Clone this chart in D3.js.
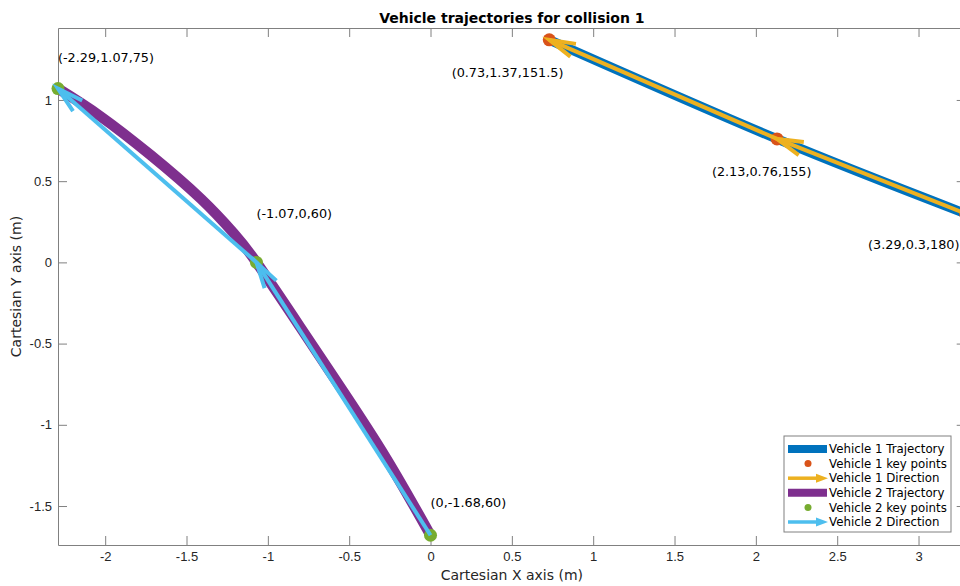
<!DOCTYPE html>
<html>
<head>
<meta charset="utf-8">
<script src="https://cdn.jsdelivr.net/npm/d3@7"></script>
<style>
  body { margin: 0; background: #fff; }
  svg { display: block; font-family: "DejaVu Sans", sans-serif; }
  .tick text { fill: #262626; font-size: 13px; }
</style>
</head>
<body>
<div id="chart"></div>
<script>
// key points of vehicle 1: x, y and heading shown in the label
var v1X = [0.73, 2.13, 3.29];
var v1Y = [1.37, 0.76, 0.3];
var v1Deg = [151.5, 155, 180];

// key points of vehicle 2
var v2X = [-2.29, -1.07, 0];
var v2Y = [1.07, 0, -1.68];
var v2Deg = [75, 60, 60];

// vehicle 2 trajectory
var v2TrajX = [-2.29, -2.03, -1.72, -1.41, -1.21, -1.07, -0.80, -0.54, -0.27, 0];
var v2TrajY = [1.07, 0.90, 0.66, 0.39, 0.18, 0, -0.40, -0.79, -1.21, -1.68];

// label offsets (data units) used for the text() calls
var v1LabelDx = [-0.6, -0.4, -0.6];
var v1LabelDy = [-0.2, -0.2, -0.19];
var v2LabelDx = [0, 0, 0];
var v2LabelDy = [0.19, 0.3, 0.2];

var xTicks = [-2, -1.5, -1, -0.5, 0, 0.5, 1, 1.5, 2, 2.5, 3];
var yTicks = [-1.5, -1, -0.5, 0, 0.5, 1];

var legendLabels = ["Vehicle 1 Trajectory", "Vehicle 1 key points", "Vehicle 1 Direction",
                    "Vehicle 2 Trajectory", "Vehicle 2 key points", "Vehicle 2 Direction"];

var width = 960, height = 586;
var plotL = 58, plotR = 965.7, plotT = 28, plotB = 545;

var col = {
  blue: "#0072BD", red: "#D95319", yellow: "#EDB120",
  purple: "#7E2F8E", green: "#77AC30", cyan: "#4DBEEE"
};

var svg = d3.select("#chart").append("svg")
  .attr("width", width).attr("height", height);

var x = d3.scaleLinear().domain([-2.29, 3.29]).range([plotL, plotR]);
var y = d3.scaleLinear().domain([-1.74, 1.443]).range([plotB, plotT]);

// axes, MATLAB style: box on, ticks pointing in
var fmt = function (d) { return String(d); };
svg.append("g").attr("transform", "translate(0," + plotB + ")")
  .call(d3.axisBottom(x).tickValues(xTicks).tickFormat(fmt).tickSizeInner(-9).tickSizeOuter(0).tickPadding(7));
svg.append("g").attr("transform", "translate(0," + plotT + ")")
  .call(d3.axisTop(x).tickValues(xTicks).tickFormat("").tickSizeInner(-9).tickSizeOuter(0));
svg.append("g").attr("transform", "translate(" + plotL + ",0)")
  .call(d3.axisLeft(y).tickValues(yTicks).tickFormat(fmt).tickSizeInner(-9).tickSizeOuter(0).tickPadding(6));
svg.append("g").attr("transform", "translate(" + plotR + ",0)")
  .call(d3.axisRight(y).tickValues(yTicks).tickFormat("").tickSizeInner(-9).tickSizeOuter(0));
svg.selectAll(".domain, .tick line").attr("stroke", "#808080");

// titles
svg.append("text").attr("x", (plotL + plotR) / 2).attr("y", 23)
  .attr("text-anchor", "middle").style("font-weight", "bold").style("font-size", "14px")
  .attr("fill", "#000").text("Vehicle trajectories for collision 1");
svg.append("text").attr("x", (plotL + plotR) / 2).attr("y", 580)
  .attr("text-anchor", "middle").style("font-size", "14px").attr("fill", "#262626")
  .text("Cartesian X axis (m)");
svg.append("text").attr("transform", "translate(21," + (plotT + plotB) / 2 + ") rotate(-90)")
  .attr("text-anchor", "middle").style("font-size", "14px").attr("fill", "#262626")
  .text("Cartesian Y axis (m)");

var line = d3.line().x(function (d) { return x(d[0]); }).y(function (d) { return y(d[1]); })
  .curve(d3.curveNatural);

function zipXY(xs, ys) { return xs.map(function (v, i) { return [v, ys[i]]; }); }

// quiver: arrow from each key point to the previous one
function drawArrows(xs, ys, color) {
  var head = 27, ang = 15 * Math.PI / 180;
  for (var i = xs.length - 1; i > 0; i--) {
    var x0 = x(xs[i]), y0 = y(ys[i]), x1 = x(xs[i - 1]), y1 = y(ys[i - 1]);
    var a = Math.atan2(y0 - y1, x0 - x1);
    var b1 = [x1 + head * Math.cos(a + ang), y1 + head * Math.sin(a + ang)];
    var b2 = [x1 + head * Math.cos(a - ang), y1 + head * Math.sin(a - ang)];
    svg.append("line").attr("x1", x0).attr("y1", y0).attr("x2", x1).attr("y2", y1)
      .attr("stroke", color).attr("stroke-width", 4);
    svg.append("path").attr("d", "M" + b1 + "L" + x1 + "," + y1 + "L" + b2)
      .attr("fill", "none").attr("stroke", color).attr("stroke-width", 4);
  }
}

function drawPoints(xs, ys, color) {
  svg.append("g").selectAll("circle").data(zipXY(xs, ys)).enter().append("circle")
    .attr("cx", function (d) { return x(d[0]); }).attr("cy", function (d) { return y(d[1]); })
    .attr("r", 6.5).attr("fill", color);
}

function drawLabels(xs, ys, deg, dx, dy) {
  svg.append("g").selectAll("text").data(xs).enter().append("text")
    .attr("x", function (d, i) { return x(d + dx[i]); })
    .attr("y", function (d, i) { return y(ys[i] + dy[i]); })
    .attr("dy", "0.35em").style("font-size", "12.8px").attr("fill", "#000")
    .text(function (d, i) { return "(" + d + "," + ys[i] + "," + deg[i] + ")"; });
}

// vehicle 1
svg.append("path").attr("d", line(zipXY(v1X, v1Y)))
  .attr("fill", "none").attr("stroke", col.blue).attr("stroke-width", 9.5);
drawPoints(v1X, v1Y, col.red);
drawArrows(v1X, v1Y, col.yellow);

// vehicle 2
svg.append("path").attr("d", line(zipXY(v2TrajX, v2TrajY)))
  .attr("fill", "none").attr("stroke", col.purple).attr("stroke-width", 10.5);
drawPoints(v2X, v2Y, col.green);
drawArrows(v2X, v2Y, col.cyan);

drawLabels(v1X, v1Y, v1Deg, v1LabelDx, v1LabelDy);
drawLabels(v2X, v2Y, v2Deg, v2LabelDx, v2LabelDy);

// legend
var lg = svg.append("g").attr("transform", "translate(784,436)");
lg.append("rect").attr("width", 167).attr("height", 96)
  .attr("fill", "#fff").attr("stroke", "#808080").attr("stroke-width", 1);
var kinds = ["line", "dot", "arrow", "line", "dot", "arrow"];
var kcol = [col.blue, col.red, col.yellow, col.purple, col.green, col.cyan];
legendLabels.forEach(function (lab, i) {
  var ry = 13 + i * 14.6;
  if (kinds[i] === "line") {
    lg.append("line").attr("x1", 4).attr("x2", 43).attr("y1", ry).attr("y2", ry)
      .attr("stroke", kcol[i]).attr("stroke-width", 8);
  } else if (kinds[i] === "dot") {
    lg.append("circle").attr("cx", 24).attr("cy", ry).attr("r", 3.5).attr("fill", kcol[i]);
  } else {
    lg.append("line").attr("x1", 4).attr("x2", 34).attr("y1", ry).attr("y2", ry)
      .attr("stroke", kcol[i]).attr("stroke-width", 3.5);
    lg.append("path").attr("d", "M32," + (ry - 4.5) + "L44," + ry + "L32," + (ry + 4.5) + "Z")
      .attr("fill", kcol[i]);
  }
  lg.append("text").attr("x", 45).attr("y", ry).attr("dy", "0.35em")
    .style("font-size", "11.8px").attr("fill", "#000").text(lab);
});
</script>
</body>
</html>
